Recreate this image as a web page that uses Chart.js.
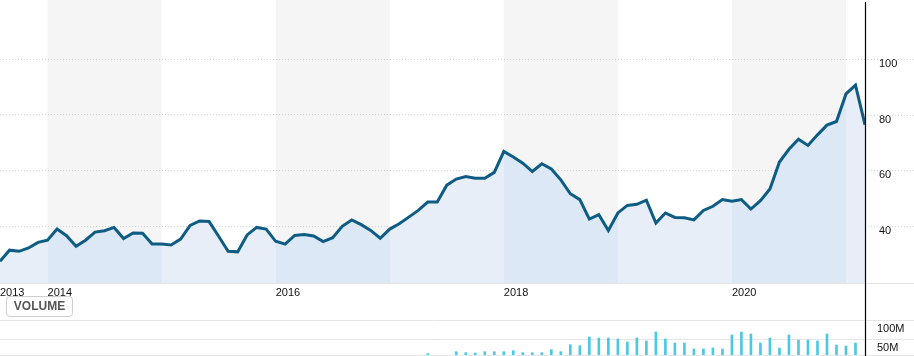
<!DOCTYPE html>
<html>
<head>
<meta charset="utf-8">
<script src="https://cdn.jsdelivr.net/npm/chart.js@4/dist/chart.umd.min.js"></script>
<style>
html,body{margin:0;padding:0;background:#fff;}
#wrap{position:relative;width:914px;height:356px;overflow:hidden;background:#fff;}
#price{position:absolute;left:0;top:0;}
#vol{position:absolute;left:0;top:300px;}
#volbtn{position:absolute;left:6px;top:296px;width:67px;height:21px;box-sizing:border-box;border:1px solid #cfcfcf;border-radius:4px;
  font:bold 12px 'Liberation Sans',Arial,sans-serif;color:#555;text-align:center;line-height:18px;z-index:2;background:transparent;}
</style>
</head>
<body>
<div id="wrap">
  <canvas id="price" width="914" height="300"></canvas>
  <canvas id="vol" width="914" height="56"></canvas>
  <div id="volbtn">VOLUME</div>
</div>
<script>
// ---------- DATA ----------
const months = [
  '2013-08','2013-09','2013-10','2013-11','2013-12',
  '2014-01','2014-02','2014-03','2014-04','2014-05','2014-06','2014-07','2014-08','2014-09','2014-10','2014-11','2014-12',
  '2015-01','2015-02','2015-03','2015-04','2015-05','2015-06','2015-07','2015-08','2015-09','2015-10','2015-11','2015-12',
  '2016-01','2016-02','2016-03','2016-04','2016-05','2016-06','2016-07','2016-08','2016-09','2016-10','2016-11','2016-12',
  '2017-01','2017-02','2017-03','2017-04','2017-05','2017-06','2017-07','2017-08','2017-09','2017-10','2017-11','2017-12',
  '2018-01','2018-02','2018-03','2018-04','2018-05','2018-06','2018-07','2018-08','2018-09','2018-10','2018-11','2018-12',
  '2019-01','2019-02','2019-03','2019-04','2019-05','2019-06','2019-07','2019-08','2019-09','2019-10','2019-11','2019-12',
  '2020-01','2020-02','2020-03','2020-04','2020-05','2020-06','2020-07','2020-08','2020-09','2020-10','2020-11','2020-12',
  '2021-01','2021-02','2021-03'
];
const prices = [
  27.3, 31.3, 30.9, 32.1, 34.1,
  34.9, 38.9, 36.5, 32.7, 34.9, 37.8, 38.3, 39.5, 35.5, 37.5, 37.4, 33.5,
  33.5, 33.2, 35.3, 40.2, 41.8, 41.6, 36.3, 30.9, 30.7, 36.8, 39.5, 38.9,
  34.5, 33.5, 36.6, 36.9, 36.4, 34.4, 35.8, 39.9, 42.2, 40.5, 38.4, 35.6,
  38.9, 40.8, 43.2, 45.6, 48.6, 48.6, 54.7, 56.9, 57.8, 57.2, 57.2, 59.3,
  66.8, 64.8, 62.6, 59.6, 62.4, 60.5, 56.6, 51.6, 49.5, 42.5, 44.1, 38.4,
  44.7, 47.4, 47.8, 49.3, 41.1, 44.7, 43.1, 43.0, 42.2, 45.6, 47.1, 49.5,
  48.9, 49.5, 46.1, 49.1, 53.3, 63.0, 67.6, 71.2, 69.0, 72.8, 76.3, 77.6,
  87.5, 90.7, 76.4
];
// monthly volume, millions of shares
const volumes = [
  null, null, null, null, null,
  null, null, null, null, null, null, null, null, null, null, null, null,
  null, null, null, null, null, null, null, null, null, null, null, null,
  null, null, null, null, null, null, null, null, null, null, null, null,
  null, null, null, null, 12.4, null, null, 17.6, 15.0, 14.2, 17.6, 17.6,
  17.6, 20.2, 15.0, 15.0, 15.0, 22.8, 17.6, 35.8, 33.2, 55.8, 53.2, 53.2,
  50.6, 42.8, 53.2, 45.4, 68.8, 50.6, 40.2, 40.2, 24.6, 24.6, 27.2, 24.6,
  61.0, 68.8, 63.6, 40.2, 53.2, 27.2, 61.0, 48.0, 48.0, 45.4, 63.6, 35.0,
  32.4, 40.2, null
];
const yearTickLabels = ['2013', '2014', '2016', '2018', '2020'];
const shadedYears = [2014, 2016, 2018, 2020];
const priceTicks = [40, 60, 80, 100];
const volumeTicks = [50, 100];

// ---------- helpers ----------
const PMIN = 19.5, PMAX = 121.3;
const VMIN = 9, VMAX = 100;
const FONT = "'Liberation Sans Narrow','Arial Narrow','Liberation Sans',Arial,sans-serif";
const FILL_SHADED = '#dce8f5';
const FILL_PLAIN = '#e8eef7';
const BAND = '#f5f5f5';

function firstIndexOfYear(y) {
  const i = months.findIndex(m => +m.slice(0, 4) === y);
  return i < 0 ? months.length - 1 : i;
}
function bandEdges(y) {
  const a = firstIndexOfYear(y);
  const nextIdx = months.findIndex(m => +m.slice(0, 4) === y + 1);
  const b = nextIdx < 0 ? months.length - 1 : nextIdx;
  return [a, b];
}
const yearTickIdx = yearTickLabels.map(l => firstIndexOfYear(+l));

function areaFill(ctx) {
  const chart = ctx.chart;
  const ca = chart.chartArea;
  if (!ca || !chart.scales.x) return FILL_PLAIN;
  const x = chart.scales.x;
  const w = ca.right - ca.left;
  const g = chart.ctx.createLinearGradient(ca.left, 0, ca.right, 0);
  const fy = +months[0].slice(0, 4), ly = +months[months.length - 1].slice(0, 4);
  const cl = v => Math.min(1, Math.max(0, v));
  for (let y = fy; y <= ly; y++) {
    const [ia, ib] = bandEdges(y);
    const a = y === fy ? ca.left : x.getPixelForValue(ia);
    const b = y === ly ? ca.right : x.getPixelForValue(ib);
    const c = shadedYears.includes(y) ? FILL_SHADED : FILL_PLAIN;
    g.addColorStop(cl((a - ca.left) / w), c);
    g.addColorStop(cl((b - ca.left) / w), c);
  }
  return g;
}

const bandsPlugin = {
  id: 'bands',
  beforeDraw(chart) {
    const { ctx, chartArea: ca, scales: { x } } = chart;
    ctx.save();
    ctx.fillStyle = BAND;
    shadedYears.forEach(y => {
      const [ia, ib] = bandEdges(y);
      const a = x.getPixelForValue(ia), b = x.getPixelForValue(ib);
      ctx.fillRect(a, ca.top, b - a, ca.bottom - ca.top);
    });
    ctx.restore();
  }
};

const edgePlugin = {
  id: 'edge',
  afterDraw(chart, args, opts) {
    const { ctx, chartArea: ca, scales: { y } } = chart;
    ctx.save();
    ctx.lineWidth = 1;
    ctx.strokeStyle = opts.gridColor;
    ctx.setLineDash(opts.dash || []);
    y.ticks.forEach(t => {
      const py = Math.round(y.getPixelForValue(t.value)) + 0.5;
      ctx.beginPath(); ctx.moveTo(ca.right, py); ctx.lineTo(chart.width, py); ctx.stroke();
    });
    if (opts.baseColor) {
      ctx.setLineDash([]);
      ctx.strokeStyle = opts.baseColor;
      const py = Math.round(ca.bottom) + 0.5;
      ctx.beginPath(); ctx.moveTo(ca.right, py); ctx.lineTo(chart.width, py); ctx.stroke();
    }
    ctx.setLineDash([]);
    ctx.strokeStyle = '#000';
    ctx.lineWidth = 1.2;
    const px = Math.round(ca.right) + 0.5;
    ctx.beginPath(); ctx.moveTo(px, opts.lineTop || 0); ctx.lineTo(px, chart.height); ctx.stroke();
    ctx.restore();
  }
};

const noPadY = w => s => { s.width = w; s.paddingTop = 0; s.paddingBottom = 0; };

// ---------- price chart ----------
new Chart(document.getElementById('price'), {
  type: 'line',
  data: {
    datasets: [{
      data: months.map((m, i) => ({ x: i, y: prices[i] })),
      borderColor: '#0e5c84',
      borderWidth: 3,
      pointRadius: 0,
      tension: 0,
      fill: 'start',
      backgroundColor: areaFill
    }]
  },
  options: {
    responsive: false,
    animation: false,
    devicePixelRatio: 1,
    layout: { padding: 0 },
    plugins: {
      legend: { display: false },
      tooltip: { enabled: false },
      edge: { gridColor: '#d6d6d6', dash: [1, 2], baseColor: '#e4e4e4', lineTop: 2 }
    },
    scales: {
      x: {
        type: 'linear',
        min: 0,
        max: months.length - 1,
        afterBuildTicks: s => { s.ticks = yearTickIdx.map(v => ({ value: v })); },
        afterFit: s => { s.height = 17; s.paddingLeft = 0; s.paddingRight = 0; },
        grid: { display: false, drawTicks: false },
        border: { display: true, color: '#e4e4e4', width: 1 },
        ticks: {
          autoSkip: false, maxRotation: 0, minRotation: 0, align: 'start', padding: 3,
          color: '#111', font: { family: FONT, size: 11 },
          callback: v => { const k = yearTickIdx.indexOf(v); return k >= 0 ? yearTickLabels[k] : ''; }
        }
      },
      y: {
        position: 'right',
        min: PMIN,
        max: PMAX,
        afterBuildTicks: s => { s.ticks = priceTicks.map(v => ({ value: v })); },
        afterFit: noPadY(49),
        grid: { color: '#d6d6d6', drawTicks: false },
        border: { display: false, dash: [1, 2] },
        ticks: {
          padding: 14, crossAlign: 'near', labelOffset: 5,
          color: '#111', font: { family: FONT, size: 11 }
        }
      }
    }
  },
  plugins: [bandsPlugin, edgePlugin]
});

// ---------- volume chart ----------
new Chart(document.getElementById('vol'), {
  type: 'bar',
  data: {
    datasets: [{
      data: months.map((m, i) => ({ x: i, y: volumes[i] })),
      backgroundColor: '#4dc8e4',
      barThickness: 2
    }]
  },
  options: {
    responsive: false,
    animation: false,
    devicePixelRatio: 1,
    layout: { padding: { top: 20, bottom: 1, left: 0, right: 0 } },
    plugins: {
      legend: { display: false },
      tooltip: { enabled: false },
      edge: { gridColor: '#e6e6e6', dash: [], lineTop: 0 }
    },
    scales: {
      x: { type: 'linear', min: 0, max: months.length - 1, display: false, offset: false },
      y: {
        position: 'right',
        min: VMIN,
        max: VMAX,
        afterBuildTicks: s => { s.ticks = [VMIN].concat(volumeTicks).map(v => ({ value: v })); },
        afterFit: noPadY(49),
        grid: { color: '#e6e6e6', drawTicks: false },
        border: { display: false },
        ticks: {
          padding: 12, crossAlign: 'near', labelOffset: 8.5,
          color: '#111', font: { family: FONT, size: 11 },
          callback: v => volumeTicks.includes(v) ? v + 'M' : ''
        }
      }
    }
  },
  plugins: [edgePlugin]
});
</script>
</body>
</html>
